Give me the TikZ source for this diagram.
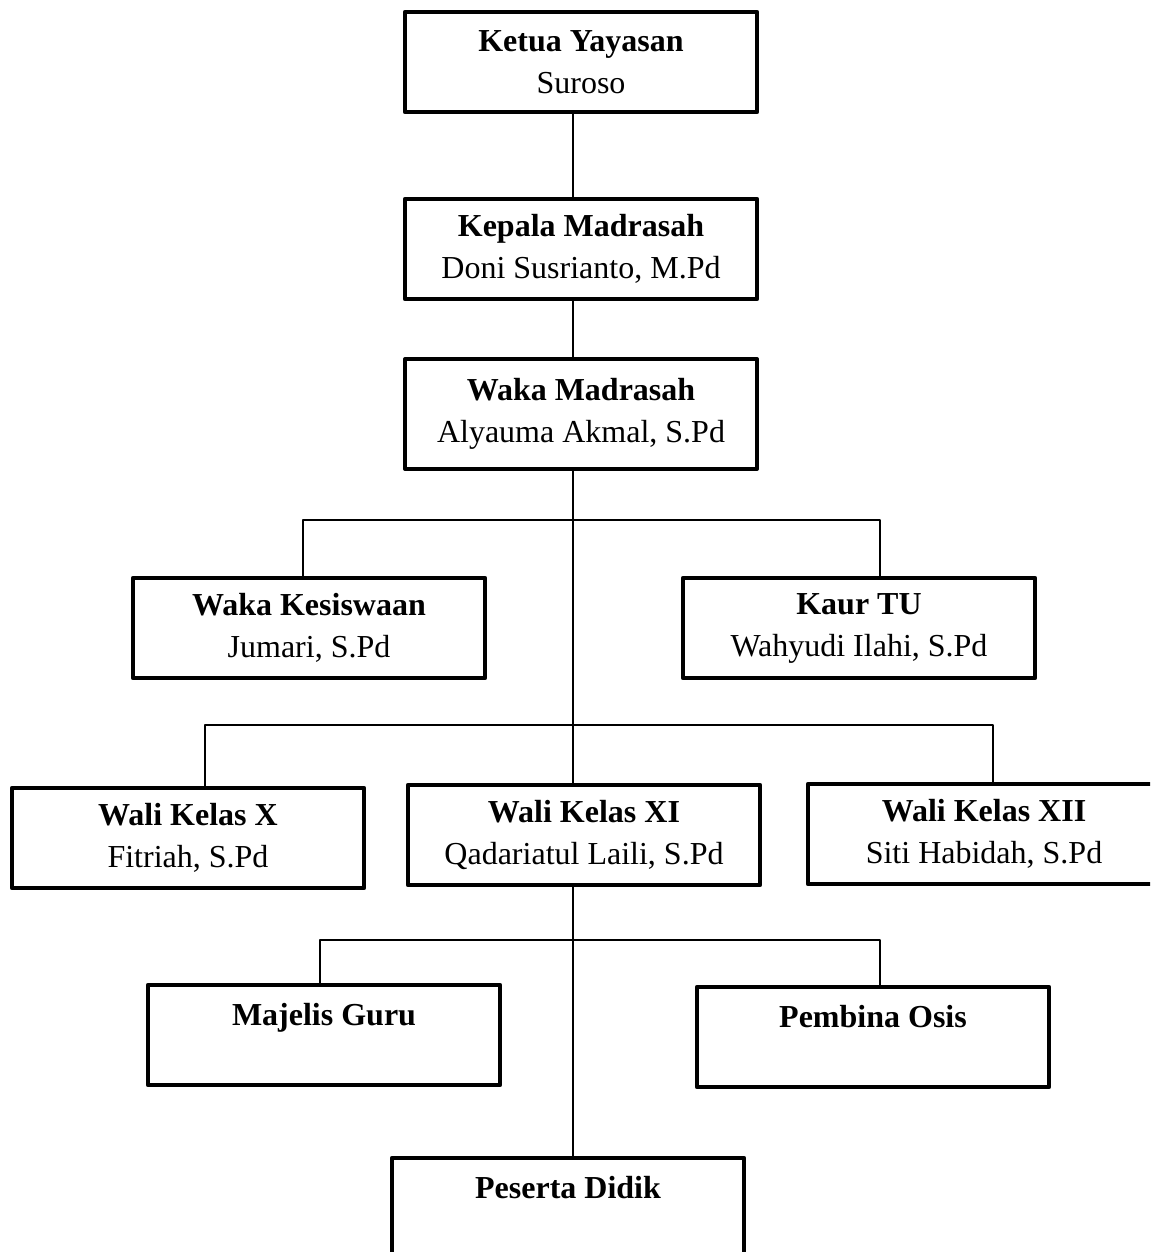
\documentclass[tikz,border=0pt]{standalone}
\usepackage{fontspec}
\setmainfont{Liberation Serif}
\begin{document}
\begin{tikzpicture}[x=0.75pt,y=-0.75pt,line join = round,line width=1.1pt,font=\fontsize{24}{31.5}\selectfont,
		box/.style={draw,line width=3.2pt,rectangle,minimum width=264pt,minimum height=75pt,align=center,inner sep=0pt,
			execute at begin node={\rule{0pt}{20.5pt}}}]
			\useasboundingbox (0,0) rectangle (1150,1252);
			\clip (0,0) rectangle (1150,1252);
			\node [box] (ketua) at (581,62) {\textbf{Ketua Yayasan}\\Suroso};
			\node [box] (kepala) at (581,249) {\textbf{Kepala Madrasah}\\Doni Susrianto, M.Pd};
			\node [box,minimum height=82pt] (waka) at (581,414) {\textbf{Waka Madrasah}\\Alyauma Akmal, S.Pd};
			\node [box] (kesiswaan) at (309,628) {\textbf{Waka Kesiswaan}\\Jumari, S.Pd};
			\node [box] (kaurtu) at (859,628) {\textbf{Kaur TU}\\Wahyudi Ilahi, S.Pd};
			\node [box] (walix) at (188,838) {\textbf{Wali Kelas X}\\Fitriah, S.Pd};
			\node [box] (walixi) at (584,835) {\textbf{Wali Kelas XI}\\Qadariatul Laili, S.Pd};
			\node [box] (walixii) at (984,834) {\textbf{Wali Kelas XII}\\Siti Habidah, S.Pd};
			\node [box] (majelis) at (324,1035) {\textbf{Majelis Guru}\\\mbox{}};
			\node [box] (pembina) at (873,1037) {\textbf{Pembina Osis}\\\mbox{}};
			\node [box] (peserta) at (568,1208) {\textbf{Peserta Didik}\\\mbox{}};
			\coordinate (spine) at (573,0);
			\coordinate (b1l) at (303,520); \coordinate (b1r) at (880,520);
			\coordinate (b2l) at (205,725); \coordinate (b2r) at (993,725);
			\coordinate (b3l) at (320,940); \coordinate (b3r) at (880,940);
			\draw (ketua.south -| spine) -- (kepala.north -| spine)
				(kepala.south -| spine) -- (waka.north -| spine)
				(waka.south -| spine) -- (walixi.north -| spine)
				(walixi.south -| spine) -- (peserta.north -| spine);
			\draw (kesiswaan.north -| b1l) -- (b1l) -- (b1r) -- (kaurtu.north -| b1r);
			\draw (walix.north -| b2l) -- (b2l) -- (b2r) -- (walixii.north -| b2r);
			\draw (majelis.north -| b3l) -- (b3l) -- (b3r) -- (pembina.north -| b3r);
	\end{tikzpicture}
\end{document}
